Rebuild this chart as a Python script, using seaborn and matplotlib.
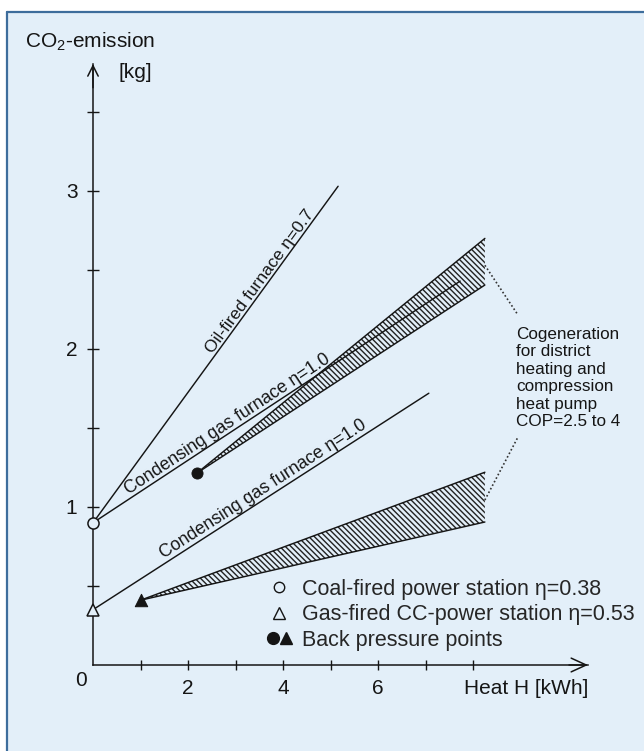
import matplotlib
matplotlib.use("Agg")
import numpy as np
import pandas as pd
import matplotlib.pyplot as plt
import seaborn as sns
from matplotlib.lines import Line2D
from matplotlib.legend_handler import HandlerTuple

# ---------------- data ----------------
# reference points (heat H [kWh], CO2 [kg])
coal_station_x = [0.0]
coal_station_y = [0.90]
gas_cc_station_x = [0.0]
gas_cc_station_y = [0.35]
bp_circle_x = [2.19]
bp_circle_y = [1.215]
bp_triangle_x = [1.0]
bp_triangle_y = [0.41]

# straight lines
oil_x = [0.0, 5.16]
oil_y = [0.90, 3.03]
gas_upper_x = [0.0, 7.73]
gas_upper_y = [0.90, 2.43]
gas_lower_x = [0.0, 7.07]
gas_lower_y = [0.35, 1.72]

# cogeneration + heat pump bands (COP 2.5 .. 4)
band_up_x = [2.19, 8.25]
band_up_top = [1.215, 2.70]
band_up_bot = [1.215, 2.405]
band_lo_x = [1.0, 8.25]
band_lo_top = [0.41, 1.22]
band_lo_bot = [0.41, 0.905]

# ticks
x_ticks = [1, 2, 3, 4, 5, 6, 7, 8]
x_ticklabels = ["", "2", "", "4", "", "6", "", ""]
y_ticks = [0.5, 1.0, 1.5, 2.0, 2.5, 3.0, 3.5]
y_ticklabels = ["", "1", "", "2", "", "3", ""]

legend_labels = ["Coal-fired power station η=0.38",
                 "Gas-fired CC-power station η=0.53",
                 "Back pressure points"]
cogen_text = "Cogeneration\nfor district\nheating and\ncompression\nheat pump\nCOP=2.5 to 4"

# ---------------- styling ----------------
sns.set_theme(style="white")
plt.rcParams["font.family"] = ["Liberation Sans", "DejaVu Sans"]
plt.rcParams["mathtext.fontset"] = "custom"
plt.rcParams["mathtext.rm"] = "Liberation Sans"
plt.rcParams["hatch.linewidth"] = 1.0

BG = "#e3eff9"
INK = "#151515"
W, H = 644, 751
X0, Y0, SX, SY = 93, 665, 47.5, 158.0   # pixel mapping of the data origin / units

fig = plt.figure(figsize=(W / 100, H / 100), dpi=100)
fig.patch.set_facecolor("white")
ax = fig.add_axes([7 / W, 0, (W - 7) / W, (H - 12) / H])
ax.set_facecolor(BG)
ax.set_xlim((7 - X0) / SX, (W - X0) / SX)
ax.set_ylim((Y0 - H) / SY, (Y0 - 12) / SY)

# panel border (top & left)
fig.add_artist(Line2D([7 / W, 1], [1 - 12 / H] * 2, transform=fig.transFigure,
                      color="#3d6d9c", lw=1.6))
fig.add_artist(Line2D([7 / W] * 2, [0, 1 - 12 / H], transform=fig.transFigure,
                      color="#3d6d9c", lw=1.6))

# axes as arrows through the origin
for s in ["top", "right"]:
    ax.spines[s].set_visible(False)
x_tip = (588 - X0) / SX
y_tip = (Y0 - 64) / SY
ax.spines["left"].set_position(("data", 0))
ax.spines["bottom"].set_position(("data", 0))
ax.spines["left"].set_bounds(0, y_tip)
ax.spines["bottom"].set_bounds(0, x_tip)
for s in ["left", "bottom"]:
    ax.spines[s].set_color(INK)
    ax.spines[s].set_linewidth(1.1)
ax.annotate("", xy=(0, y_tip), xytext=(0, y_tip - 0.15),
            arrowprops=dict(arrowstyle="->,head_length=0.5,head_width=0.25",
                            lw=1.1, color=INK, shrinkA=0, shrinkB=0,
                            mutation_scale=15))
ax.annotate("", xy=(x_tip, 0), xytext=(x_tip - 0.4, 0),
            arrowprops=dict(arrowstyle="->,head_length=0.72,head_width=0.33",
                            lw=1.1, color=INK, shrinkA=0, shrinkB=0,
                            mutation_scale=15))

ax.set_xticks(x_ticks)
ax.set_xticklabels(x_ticklabels)
ax.set_yticks(y_ticks)
ax.set_yticklabels(y_ticklabels)
ax.tick_params(axis="both", direction="inout", width=1.0, colors=INK,
               labelsize=15, labelcolor=INK, left=True, bottom=True,
               top=False, right=False)
ax.tick_params(axis="y", length=8.5, pad=7)
ax.tick_params(axis="x", length=7.5, pad=6)

ax.text(-0.12, -0.04, "0", ha="right", va="top", fontsize=15, color=INK)
ax.text((25 - X0) / SX, (Y0 - 42) / SY, "CO$_2$-emission", ha="left",
        va="center", fontsize=15, color=INK)
ax.text((118 - X0) / SX, (Y0 - 73) / SY, "[kg]", ha="left", va="center",
        fontsize=15, color=INK)
ax.text(x_tip, -0.146, "Heat H [kWh]", ha="right", va="center",
        fontsize=15, color=INK)

# ---------------- hatched bands ----------------
for bx, bt, bb in [(band_up_x, band_up_top, band_up_bot),
                   (band_lo_x, band_lo_top, band_lo_bot)]:
    ax.fill_between(bx, bb, bt, facecolor="none", edgecolor="#222222",
                    hatch="\\" * 6, linewidth=0, zorder=2)

# ---------------- lines ----------------
rows = []
for name, xs, ys in [("oil", oil_x, oil_y),
                     ("gas_upper", gas_upper_x, gas_upper_y),
                     ("gas_lower", gas_lower_x, gas_lower_y),
                     ("band_up_top", band_up_x, band_up_top),
                     ("band_up_bot", band_up_x, band_up_bot),
                     ("band_lo_top", band_lo_x, band_lo_top),
                     ("band_lo_bot", band_lo_x, band_lo_bot)]:
    for xv, yv in zip(xs, ys):
        rows.append({"series": name, "x": xv, "y": yv})
lines_df = pd.DataFrame(rows)
sns.lineplot(data=lines_df, x="x", y="y", units="series", estimator=None,
             sort=False, color=INK, lw=1.05, ax=ax, legend=False, zorder=3)
ax.set_xlabel("")
ax.set_ylabel("")

# ---------------- points ----------------
ax.plot(coal_station_x, coal_station_y, "o", ms=8, mfc=BG, mec=INK, mew=1.1, zorder=5)
ax.plot(gas_cc_station_x, gas_cc_station_y, "^", ms=9, mfc=BG, mec=INK, mew=1.1, zorder=5)
sns.scatterplot(x=bp_circle_x, y=bp_circle_y, marker="o", s=64, color=INK,
                edgecolor=INK, ax=ax, zorder=5)
sns.scatterplot(x=bp_triangle_x, y=bp_triangle_y, marker="^", s=80, color=INK,
                edgecolor=INK, ax=ax, zorder=5)


# ---------------- line labels ----------------
def line_label(xs, ys, xpos, text, size):
    slope = (ys[1] - ys[0]) / (xs[1] - xs[0])
    ypos = ys[0] + slope * (xpos - xs[0])
    ang = np.degrees(np.arctan(slope))
    ax.text(xpos, ypos, text, rotation=ang, transform_rotates_text=True,
            rotation_mode="anchor", ha="center", va="bottom", fontsize=size,
            color=INK, zorder=4)


line_label(oil_x, oil_y, 3.64, "Oil-fired furnace η=0.7", 12.6)
line_label(gas_upper_x, gas_upper_y, 2.93, "Condensing gas furnace η=1.0", 12.8)
line_label(gas_lower_x, gas_lower_y, 3.69, "Condensing gas furnace η=1.0", 12.8)

# ---------------- cogeneration annotation ----------------
tx = (516 - X0) / SX
ax.text(tx, (Y0 - 378) / SY, cogen_text, ha="left", va="center",
        fontsize=12.3, linespacing=1.2, color=INK)
ax.plot([8.25, (518 - X0) / SX], [2.53, (Y0 - 315) / SY], ls=(0, (1, 1.4)),
        color="#333333", lw=1.2)
ax.plot([8.25, (518 - X0) / SX], [1.044, (Y0 - 437) / SY], ls=(0, (1, 1.4)),
        color="#333333", lw=1.2)

# ---------------- legend ----------------
h1 = Line2D([], [], ls="", marker="o", ms=7.5, mfc="none", mec=INK, mew=1.0)
h2 = Line2D([], [], ls="", marker="^", ms=8, mfc="none", mec=INK, mew=1.0)
h3a = Line2D([], [], ls="", marker="o", ms=8.5, mfc=INK, mec=INK)
h3b = Line2D([], [], ls="", marker="^", ms=8.5, mfc=INK, mec=INK)
ax.legend([h1, h2, (h3a, h3b)], legend_labels,
          handler_map={tuple: HandlerTuple(ndivide=None, pad=0.0)},
          loc="upper left", bbox_to_anchor=(266 / W, 1 - 579 / H),
          bbox_transform=fig.transFigure, frameon=False, fontsize=15.5,
          handlelength=1.25, handletextpad=0.4, labelspacing=0.2,
          borderpad=0, borderaxespad=0)

fig.savefig("out.png", dpi=100, facecolor=fig.get_facecolor())
